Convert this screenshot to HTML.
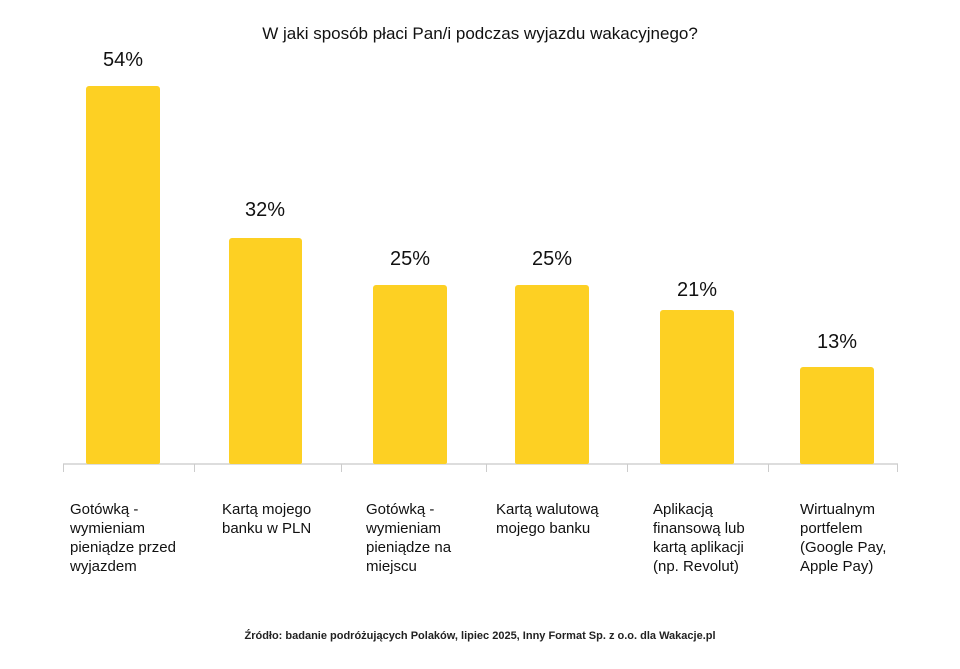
<!DOCTYPE html>
<html><head><meta charset="utf-8"><style>
body{margin:0;width:960px;height:669px;background:#fff;font-family:"Liberation Sans","DejaVu Sans",sans-serif;color:#111;position:relative;overflow:hidden}
.t{position:absolute;left:0;width:960px;text-align:center}
.bar{position:absolute;background:#FDD023;border-radius:3px 3px 2px 2px}
.v{position:absolute;width:120px;text-align:center;font-size:20px}
.l{position:absolute;font-size:15px;line-height:19px;top:500px}
.tick{position:absolute;top:464px;width:1px;height:8px;background:#ccc}
</style></head><body>
<div class="t" style="top:24px;font-size:17px">W jaki sposób płaci Pan/i podczas wyjazdu wakacyjnego?</div>
<div style="position:absolute;left:63px;top:463px;width:835px;height:2px;background:#ddd"></div>
<div class="tick" style="left:63px"></div><div class="tick" style="left:194px"></div><div class="tick" style="left:341px"></div><div class="tick" style="left:486px"></div><div class="tick" style="left:627px"></div><div class="tick" style="left:768px"></div><div class="tick" style="left:897px"></div>
<div class="bar" style="left:86px;width:74px;top:86px;height:378px"></div>
<div class="bar" style="left:229px;width:73px;top:238px;height:226px"></div>
<div class="bar" style="left:373px;width:74px;top:285px;height:179px"></div>
<div class="bar" style="left:515px;width:74px;top:285px;height:179px"></div>
<div class="bar" style="left:660px;width:74px;top:310px;height:154px"></div>
<div class="bar" style="left:800px;width:74px;top:367px;height:97px"></div>
<div class="v" style="left:63px;top:49px">54%</div>
<div class="v" style="left:205px;top:199px">32%</div>
<div class="v" style="left:350px;top:248px">25%</div>
<div class="v" style="left:492px;top:248px">25%</div>
<div class="v" style="left:637px;top:279px">21%</div>
<div class="v" style="left:777px;top:331px">13%</div>
<div class="l" style="left:70px">Gotówką -<br>wymieniam<br>pieniądze przed<br>wyjazdem</div>
<div class="l" style="left:222px">Kartą mojego<br>banku w PLN</div>
<div class="l" style="left:366px">Gotówką -<br>wymieniam<br>pieniądze na<br>miejscu</div>
<div class="l" style="left:496px">Kartą walutową<br>mojego banku</div>
<div class="l" style="left:653px">Aplikacją<br>finansową lub<br>kartą aplikacji<br>(np. Revolut)</div>
<div class="l" style="left:800px">Wirtualnym<br>portfelem<br>(Google Pay,<br>Apple Pay)</div>
<div class="t" style="top:630px;font-size:11px;font-weight:bold;color:#222">Źródło: badanie podróżujących Polaków, lipiec 2025, Inny Format Sp. z o.o. dla Wakacje.pl</div>
</body></html>
